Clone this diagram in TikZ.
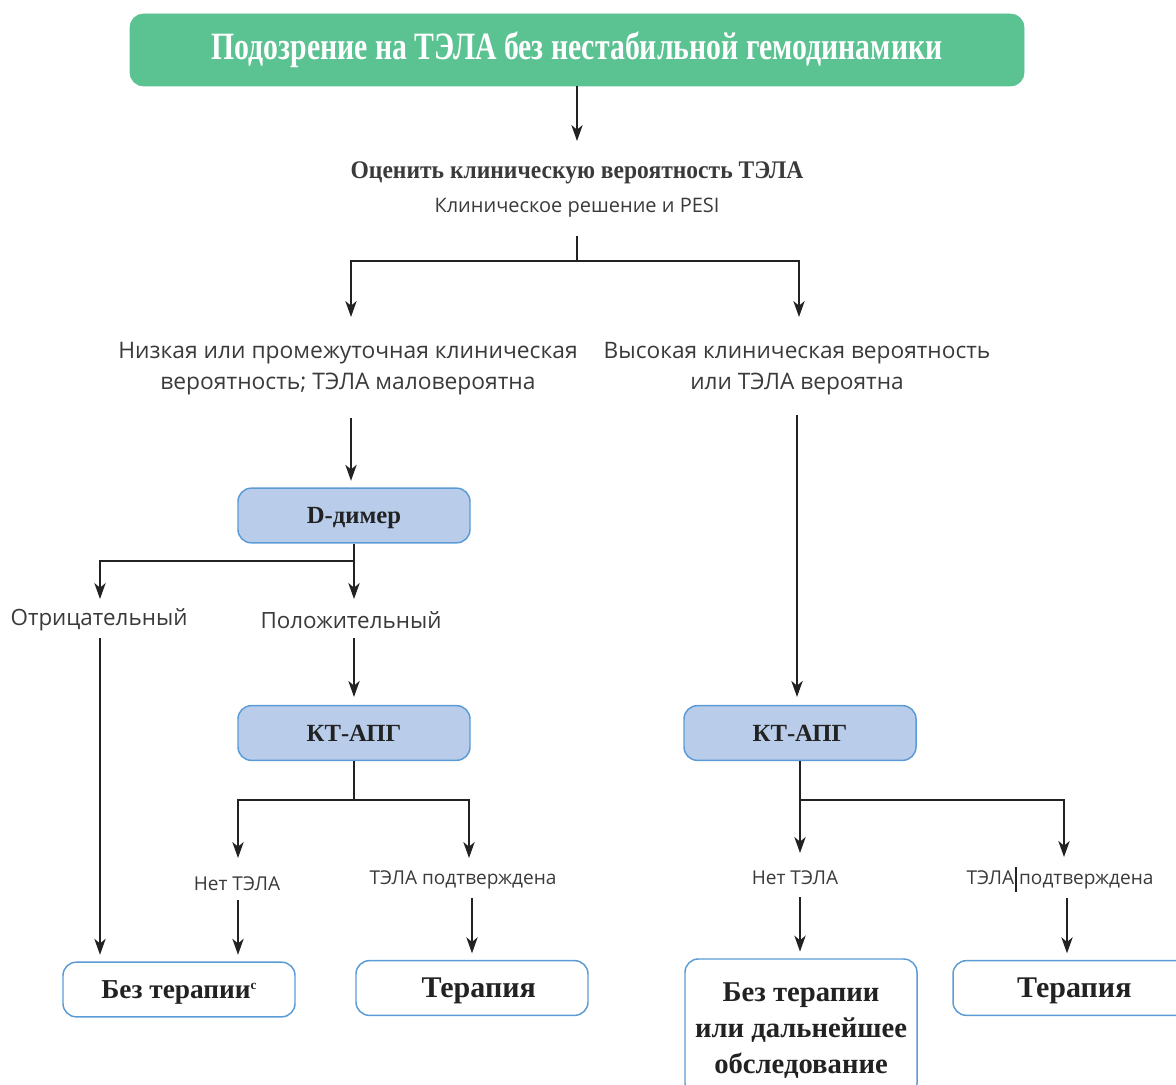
\documentclass[tikz,border=0pt]{standalone}
\usepackage{fontspec}
\usetikzlibrary{arrows.meta}
\newfontfamily\headserif{Liberation Serif}[FakeStretch=0.77]
\newfontfamily\subserif{Liberation Serif}[FakeStretch=0.93]
\newfontfamily\boxserif{Liberation Serif}
\newfontfamily\labelsans{Open Sans}
\definecolor{topgreen}{HTML}{5BC292}
\definecolor{boxblue}{HTML}{B9CDEB}
\definecolor{edgeblue}{HTML}{5B9BD5}
\definecolor{ink}{HTML}{222222}
\definecolor{txt}{HTML}{3A3A3A}
\begin{document}
\begin{tikzpicture}[x=0.75pt,y=-0.75pt,
  conn/.style={draw=ink, line width=1.2pt},
  arr/.style={conn, -{Stealth[length=12pt,width=8.5pt,inset=3.5pt]}},
  headbox/.style={fill=topgreen, draw=topgreen, rounded corners=10pt, text=white,
    font=\headserif\bfseries\fontsize{29}{33}\selectfont, inner sep=0pt,
    minimum width=670.5pt, minimum height=54pt},
  bluebox/.style={fill=boxblue, draw=edgeblue, line width=1.1pt, rounded corners=10pt,
    inner sep=0pt, minimum width=174pt, minimum height=41pt, text=ink, align=center,
    text depth=0pt, font=\boxserif\bfseries\fontsize{18.5}{22}\selectfont},
  whitebox/.style={bluebox, fill=white, font=\boxserif\bfseries\fontsize{21.5}{27}\selectfont},
  bigtitle/.style={text=txt, inner sep=0pt, font=\subserif\bfseries\fontsize{19}{22}\selectfont},
  lbl/.style={text=txt, inner sep=0pt, align=center, font=\labelsans\fontsize{#1}{23.25}\selectfont},
  lbl/.default=15
]
\useasboundingbox (0,0) rectangle (1176,1084);
\clip (0,0) rectangle (1176,1084);

% boxes
\node[headbox] (top) at (577,50) {Подозрение на ТЭЛА без нестабильной гемодинамики};
\node[bluebox] (dd)  at (354,515.5) {D-димер};
\node[bluebox] (ct1) at (354,733) {КТ-АПГ};
\node[bluebox] (ct2) at (800,733) {КТ-АПГ};
\node[whitebox, font=\boxserif\bfseries\fontsize{20.5}{27}\selectfont] (nt1) at (179,989.5) {Без терапии\raisebox{0.75ex}{\fontsize{10}{10}\selectfont c}};
\node[whitebox, font=\boxserif\bfseries\fontsize{22.5}{27}\selectfont] (tr1) at (472,988) {\kern10pt Терапия};
\node[whitebox, minimum height=103.5pt] (nt2) at (801,1028) {Без терапии\\или дальнейшее\\обследование};
\node[whitebox, minimum width=177pt, font=\boxserif\bfseries\fontsize{22.5}{27}\selectfont] (tr2) at (1071,988) {\kern5pt Терапия};

% labels
\node[bigtitle] (q1) at (577,173) {Оценить клиническую вероятность ТЭЛА};
\node[lbl=15] (q1b) at (577,208) {Клиническое решение и PESI};
\node[lbl=17.1] (low) at (348,369) {Низкая или промежуточная клиническая\\вероятность; ТЭЛА маловероятна};
\node[lbl=17] (high) at (797,369) {Высокая клиническая вероятность\\или ТЭЛА вероятна};
\node[lbl=16.8] (neg) at (99,620) {Отрицательный};
\node[lbl=16.8] (pos) at (351,620) {Положительный};
\node[lbl=14.3] (no1) at (237,884) {Нет ТЭЛА};
\node[lbl=14.3] (yes1) at (463,880) {ТЭЛА подтверждена};
\node[lbl=14.3] (no2) at (795,878) {Нет ТЭЛА};
\node[lbl=14.3] (yes2) at (1060,880) {ТЭЛА подтверждена};

% junction and end points
\coordinate (q1in) at (577,141);
\coordinate (s0) at (577,236);
\coordinate (s1) at (577,261);
\coordinate (lowin) at (351,317);
\coordinate (highin) at (799,317);
\coordinate (lowout) at (351,418);
\coordinate (highout) at (797,415);
\coordinate (ddj) at (354,561);
\coordinate (negin) at (100,599);
\coordinate (posin) at (354,599);
\coordinate (negout) at (100,638);
\coordinate (posout) at (354,638);
\coordinate (c1j) at (354,800);
\coordinate (no1in) at (238,858);
\coordinate (yes1in) at (469,858);
\coordinate (no1out) at (238,900);
\coordinate (yes1out) at (472,898);
\coordinate (c2j) at (800,800);
\coordinate (no2in) at (800,853);
\coordinate (yes2in) at (1064,857);
\coordinate (no2out) at (800,897);
\coordinate (yes2out) at (1067,898);

% connectors
\draw[arr] (top.south) -- (q1in);
\draw[conn] (s0) -- (s1);
\draw[arr] (s1) -| (lowin);
\draw[arr] (s1) -| (highin);
\draw[arr, shorten >=5pt] (lowout) -- (lowout |- dd.north);
\draw[conn] (dd.south) -- (ddj);
\draw[arr] (ddj) -| (negin);
\draw[arr] (ddj) -- (posin);
\draw[arr, shorten >=6pt] (posout) -- (ct1.north);
\draw[arr, shorten >=5pt] (negout) -- (negout |- nt1.north);
\draw[conn] (ct1.south) -- (c1j);
\draw[arr] (c1j) -| (no1in);
\draw[arr] (c1j) -| (yes1in);
\draw[arr, shorten >=5pt] (no1out) -- (no1out |- nt1.north);
\draw[arr, shorten >=5pt] (yes1out) -- (yes1out |- tr1.north);
\draw[arr, shorten >=6pt] (highout) -- (highout |- ct2.north);
\draw[conn] (ct2.south) -- (c2j);
\draw[arr] (c2j) -- (no2in);
\draw[arr] (c2j) -| (yes2in);
\draw[arr, shorten >=5pt] (no2out) -- (no2out |- nt2.north);
\draw[arr, shorten >=5pt] (yes2out) -- (yes2out |- tr2.north);
% thin stroke inside the right label
\draw[ink, line width=0.8pt] (1016,867) -- (1016,892);
\end{tikzpicture}
\end{document}
